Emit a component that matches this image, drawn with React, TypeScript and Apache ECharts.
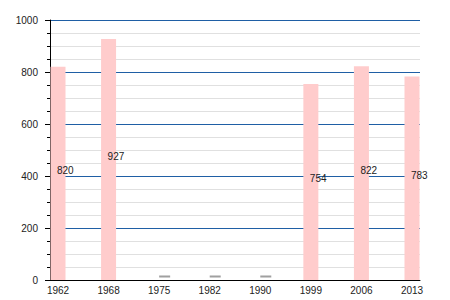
import React, { useEffect, useRef } from "react";
import * as echarts from "echarts";

const years = ["1962", "1968", "1975", "1982", "1990", "1999", "2006", "2013"];
const population = [820, 927, null, null, null, 754, 822, 783];
const missingMarks = [null, null, 0, 0, 0, null, null, null];
const yTicks = { min: 0, max: 1000, interval: 200 };

export default function App() {
  const ref = useRef<HTMLDivElement>(null);
  useEffect(() => {
    if (!ref.current) return;
    const chart = echarts.init(ref.current, null, { renderer: "svg" });
    const font = "'Liberation Sans', Arial, sans-serif";
    chart.setOption({
      animation: false,
      textStyle: { fontFamily: font },
      grid: [
        { left: 50, right: 30, top: 20, bottom: 20 },
        { left: 58, right: 38, top: 20, bottom: 20 },
      ],
      xAxis: [
        {
          type: "value",
          gridIndex: 0,
          min: 0,
          max: 1,
          axisLine: { show: true, lineStyle: { color: "#000", width: 1 } },
          axisTick: { show: false },
          axisLabel: { show: false },
          splitLine: { show: false },
        },
        {
          type: "category",
          gridIndex: 1,
          data: years,
          boundaryGap: false,
          axisLine: { show: false },
          axisTick: { show: false },
          axisLabel: { color: "#222", fontSize: 10, margin: 5, fontFamily: font, interval: 0 },
        },
      ],
      yAxis: [
        {
          type: "value",
          gridIndex: 0,
          min: yTicks.min,
          max: yTicks.max,
          interval: yTicks.interval,
          axisLine: { show: true, lineStyle: { color: "#000", width: 1 } },
          axisTick: { show: true, length: 5, lineStyle: { color: "#000" } },
          minorTick: { show: true, splitNumber: 4, length: 3, lineStyle: { color: "#000" } },
          axisLabel: {
            color: "#222",
            fontSize: 10,
            margin: 12,
            fontFamily: font,
            formatter: (v: number) => String(v),
          },
          splitLine: { show: true, lineStyle: { color: "#1f5fa5", width: 1 } },
          minorSplitLine: { show: true, lineStyle: { color: "#e0e0e0", width: 1 } },
        },
        {
          type: "value",
          gridIndex: 1,
          min: yTicks.min,
          max: yTicks.max,
          show: false,
          splitLine: { show: false },
        },
      ],
      series: [
        {
          type: "bar",
          xAxisIndex: 1,
          yAxisIndex: 1,
          data: population,
          barWidth: 15,
          itemStyle: { color: "#ffcccc" },
          label: {
            show: true,
            position: "inside",
            align: "left",
            offset: [-1, -3],
            color: "#222",
            fontSize: 10,
            fontFamily: font,
          },
        },
        {
          type: "scatter",
          xAxisIndex: 1,
          yAxisIndex: 1,
          data: missingMarks,
          symbol: "rect",
          symbolSize: [11, 2],
          symbolOffset: [5.5, -3.5],
          itemStyle: { color: "#888" },
          z: 3,
        },
      ],
    });
    return () => chart.dispose();
  }, []);
  return (
    <div
      ref={ref}
      style={{ position: "fixed", left: 0, top: 0, width: 450, height: 300, background: "#fff" }}
    />
  );
}
